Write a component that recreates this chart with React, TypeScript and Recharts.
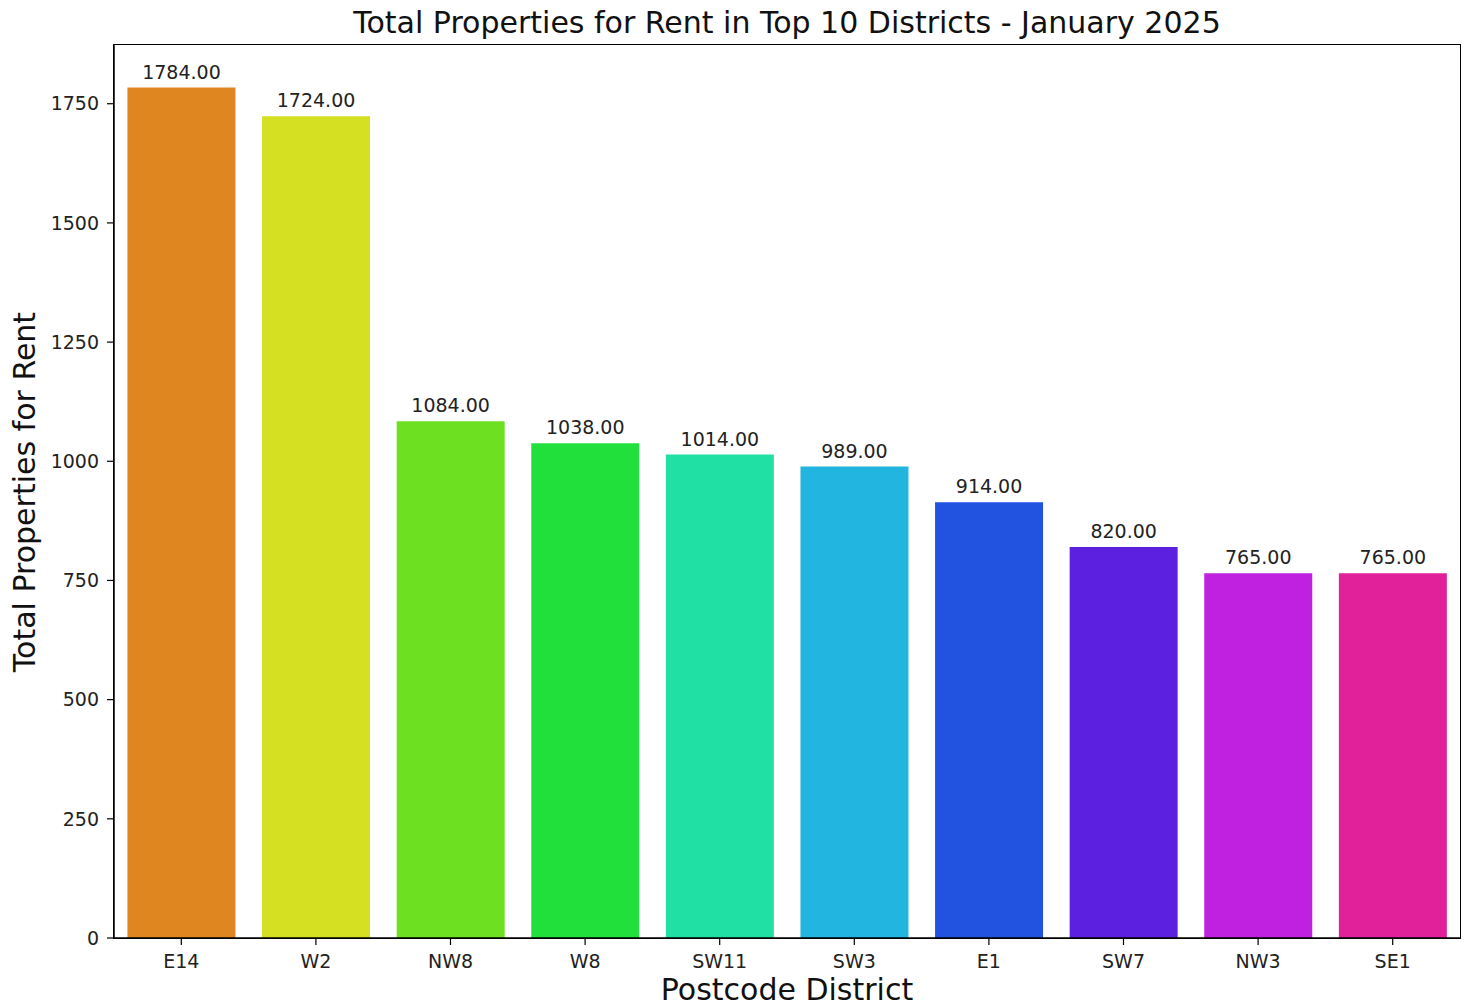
import React from 'react';
import { BarChart, Bar, XAxis, YAxis, Cell, LabelList } from 'recharts';

const DISTRICTS = ['E14', 'W2', 'NW8', 'W8', 'SW11', 'SW3', 'E1', 'SW7', 'NW3', 'SE1'];
const TOTALS = [1784, 1724, 1084, 1038, 1014, 989, 914, 820, 765, 765];
const BAR_COLORS = [
  '#df8620',
  '#d4e021',
  '#6de021',
  '#21e03c',
  '#21e0a3',
  '#21b5e0',
  '#2152e0',
  '#5c21e0',
  '#c021e0',
  '#e0219a',
];
const Y_TICKS = [0, 250, 500, 750, 1000, 1250, 1500, 1750];

const FONT = '"DejaVu Sans", sans-serif';

const data = DISTRICTS.map((d, i) => ({ district: d, total: TOTALS[i] }));

export default function App() {
  const W = 1467;
  const H = 1007;
  return (
    <div style={{ position: 'absolute', left: 0, top: 0, width: W, height: H, background: '#fff', fontFamily: FONT }}>
      <div
        style={{
          position: 'absolute',
          left: 114,
          width: 1346,
          top: 5,
          textAlign: 'center',
          fontSize: 30,
          color: '#111',
          lineHeight: '36px',
        }}
      >
        Total Properties for Rent in Top 10 Districts - January 2025
      </div>
      <div
        style={{
          position: 'absolute',
          left: 114,
          width: 1346,
          top: 973,
          textAlign: 'center',
          fontSize: 30,
          color: '#111',
          lineHeight: '34px',
        }}
      >
        Postcode District
      </div>
      <div
        style={{
          position: 'absolute',
          left: 24,
          top: 492,
          transform: 'translate(-50%, -50%) rotate(-90deg)',
          whiteSpace: 'nowrap',
          fontSize: 30,
          color: '#111',
        }}
      >
        Total Properties for Rent
      </div>
      <BarChart
        width={W}
        height={H}
        data={data}
        margin={{ top: 45, right: 7, left: 0, bottom: 0 }}
        barCategoryGap="10%"
        style={{ position: 'absolute', left: 0, top: 0 }}
      >
        <XAxis
          dataKey="district"
          height={69}
          axisLine={{ stroke: '#000', strokeWidth: 1.5 }}
          tickLine={{ stroke: '#000', strokeWidth: 1.2 }}
          tickSize={7}
          tick={{ fill: '#222', fontSize: 19, fontFamily: FONT }}
          tickMargin={10}
          interval={0}
        />
        <YAxis
          width={114}
          domain={[0, 1873.2]}
          ticks={Y_TICKS}
          allowDataOverflow
          axisLine={{ stroke: '#000', strokeWidth: 1.5 }}
          tickLine={{ stroke: '#000', strokeWidth: 1.2 }}
          tickSize={7}
          tickMargin={8}
          tick={{ fill: '#222', fontSize: 19, fontFamily: FONT }}
        />
        <Bar dataKey="total" isAnimationActive={false}>
          {data.map((d, i) => (
            <Cell key={d.district} fill={BAR_COLORS[i]} />
          ))}
          <LabelList
            dataKey="total"
            position="top"
            offset={9}
            formatter={(v: number) => v.toFixed(2)}
            style={{ fill: '#222', fontSize: 19, fontFamily: FONT }}
          />
        </Bar>
      </BarChart>
      <div
        style={{
          position: 'absolute',
          left: 113,
          top: 44,
          width: 1346,
          height: 893,
          border: '1.5px solid #000',
          pointerEvents: 'none',
        }}
      />
    </div>
  );
}
